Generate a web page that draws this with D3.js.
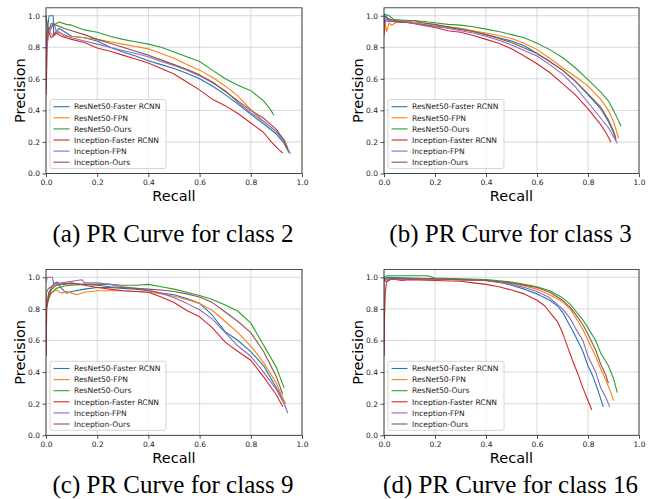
<!DOCTYPE html>
<html>
<head>
<meta charset="utf-8">
<script src="https://cdn.jsdelivr.net/npm/d3@7"></script>
<style>
  body { margin: 0; background: #fff; }
</style>
</head>
<body>
<div id="chart"></div>
<script>
// series names (legend order = draw order)
const seriesNames = ["ResNet50-Faster RCNN", "ResNet50-FPN", "ResNet50-Ours",
                     "Inception-Faster RCNN", "Inception-FPN", "Inception-Ours"];
const captions = ["(a) PR Curve for class 2", "(b) PR Curve for class 3",
                  "(c) PR Curve for class 9", "(d) PR Curve for class 16"];
const tickValues = [0, 0.2, 0.4, 0.6, 0.8, 1.0];

// class 2 : [recall, precision]
const c2_resFaster = [[0,0.82],[0.012,1.0],[0.028,1.0],[0.03,0.88],[0.05,0.92],[0.08,0.89],[0.1,0.87],[0.15,0.86],[0.2,0.84],[0.25,0.8],[0.3,0.77],[0.35,0.745],[0.4,0.715],[0.45,0.69],[0.5,0.665],[0.55,0.635],[0.6,0.6],[0.65,0.555],[0.7,0.5],[0.75,0.44],[0.8,0.375],[0.85,0.315],[0.9,0.25],[0.93,0.19],[0.95,0.13]];
const c2_resFpn = [[0,0.8],[0.01,0.9],[0.03,0.87],[0.05,0.9],[0.07,0.87],[0.1,0.87],[0.15,0.86],[0.2,0.85],[0.25,0.835],[0.3,0.82],[0.35,0.805],[0.4,0.79],[0.45,0.76],[0.5,0.73],[0.55,0.69],[0.6,0.655],[0.65,0.61],[0.7,0.555],[0.75,0.49],[0.8,0.405],[0.85,0.33],[0.9,0.265],[0.93,0.215],[0.945,0.16]];
const c2_resOurs = [[0,0.85],[0.01,0.92],[0.03,0.94],[0.05,0.96],[0.08,0.945],[0.1,0.94],[0.15,0.91],[0.2,0.895],[0.25,0.87],[0.3,0.85],[0.35,0.835],[0.4,0.82],[0.45,0.8],[0.5,0.77],[0.55,0.74],[0.6,0.71],[0.65,0.655],[0.7,0.6],[0.75,0.56],[0.8,0.525],[0.85,0.46],[0.875,0.41],[0.89,0.37]];
const c2_incFaster = [[0,0.5],[0.003,0.67],[0.005,0.85],[0.01,0.9],[0.02,0.86],[0.04,0.89],[0.06,0.87],[0.1,0.85],[0.15,0.83],[0.2,0.795],[0.25,0.775],[0.3,0.75],[0.35,0.725],[0.4,0.7],[0.45,0.665],[0.5,0.63],[0.55,0.58],[0.6,0.53],[0.65,0.47],[0.7,0.43],[0.75,0.38],[0.8,0.32],[0.85,0.26],[0.88,0.2],[0.91,0.15],[0.925,0.13]];
const c2_incFpn = [[0,0.75],[0.01,0.88],[0.02,0.92],[0.03,0.96],[0.04,0.9],[0.07,0.88],[0.1,0.86],[0.15,0.84],[0.2,0.82],[0.25,0.8],[0.3,0.78],[0.35,0.76],[0.4,0.74],[0.45,0.71],[0.5,0.685],[0.55,0.655],[0.6,0.62],[0.65,0.575],[0.7,0.525],[0.75,0.45],[0.8,0.385],[0.85,0.33],[0.9,0.265],[0.93,0.2],[0.955,0.125]];
const c2_incOurs = [[0,0.5],[0,1.0],[0.01,0.9],[0.02,0.95],[0.04,0.94],[0.07,0.92],[0.1,0.905],[0.15,0.88],[0.2,0.85],[0.25,0.825],[0.3,0.8],[0.35,0.775],[0.4,0.75],[0.45,0.72],[0.5,0.69],[0.55,0.66],[0.6,0.625],[0.65,0.58],[0.7,0.52],[0.75,0.46],[0.8,0.4],[0.85,0.35],[0.9,0.28],[0.93,0.21],[0.945,0.15]];

// class 3
const c3_resFaster = [[0,0.9],[0.005,1.0],[0.02,0.97],[0.05,0.965],[0.1,0.955],[0.15,0.945],[0.2,0.935],[0.25,0.925],[0.3,0.915],[0.35,0.9],[0.4,0.88],[0.45,0.86],[0.5,0.84],[0.55,0.81],[0.6,0.76],[0.65,0.71],[0.7,0.655],[0.75,0.585],[0.8,0.5],[0.85,0.41],[0.88,0.33],[0.9,0.26],[0.91,0.21]];
const c3_resFpn = [[0,0.87],[0.005,0.95],[0.01,0.9],[0.02,0.95],[0.03,0.94],[0.05,0.96],[0.1,0.96],[0.15,0.955],[0.2,0.94],[0.25,0.93],[0.3,0.92],[0.35,0.905],[0.4,0.89],[0.45,0.875],[0.5,0.855],[0.55,0.825],[0.6,0.785],[0.65,0.73],[0.7,0.67],[0.75,0.615],[0.8,0.555],[0.85,0.47],[0.88,0.4],[0.9,0.33],[0.92,0.225]];
const c3_resOurs = [[0,1.01],[0.02,1.0],[0.04,0.975],[0.1,0.97],[0.15,0.965],[0.2,0.955],[0.25,0.945],[0.3,0.94],[0.35,0.93],[0.4,0.915],[0.45,0.9],[0.5,0.88],[0.55,0.86],[0.6,0.825],[0.65,0.785],[0.7,0.735],[0.75,0.67],[0.8,0.595],[0.85,0.515],[0.88,0.46],[0.9,0.4],[0.93,0.3]];
const c3_incFaster = [[0,0.97],[0.02,0.965],[0.05,0.96],[0.1,0.955],[0.15,0.94],[0.2,0.925],[0.25,0.905],[0.3,0.895],[0.35,0.875],[0.4,0.85],[0.45,0.825],[0.5,0.79],[0.55,0.745],[0.6,0.695],[0.65,0.64],[0.7,0.57],[0.75,0.5],[0.8,0.41],[0.85,0.31],[0.87,0.26],[0.89,0.2]];
const c3_incFpn = [[0,0.94],[0.01,0.98],[0.02,0.96],[0.05,0.97],[0.1,0.955],[0.15,0.945],[0.2,0.93],[0.25,0.92],[0.3,0.905],[0.35,0.89],[0.4,0.87],[0.45,0.845],[0.5,0.815],[0.55,0.78],[0.6,0.745],[0.65,0.69],[0.7,0.63],[0.75,0.55],[0.8,0.45],[0.85,0.35],[0.88,0.29],[0.9,0.235],[0.915,0.19]];
const c3_incOurs = [[0,0.88],[0,1.0],[0.02,0.98],[0.05,0.965],[0.1,0.965],[0.12,0.97],[0.15,0.955],[0.2,0.945],[0.25,0.93],[0.3,0.915],[0.35,0.9],[0.4,0.88],[0.45,0.855],[0.5,0.83],[0.55,0.795],[0.6,0.76],[0.65,0.71],[0.7,0.655],[0.75,0.585],[0.8,0.505],[0.85,0.42],[0.88,0.34],[0.9,0.27],[0.91,0.22]];

// class 9
const c9_resFaster = [[0,0.8],[0.01,0.9],[0.03,0.96],[0.045,0.97],[0.06,0.93],[0.08,0.9],[0.1,0.91],[0.15,0.925],[0.2,0.935],[0.25,0.935],[0.3,0.93],[0.35,0.925],[0.4,0.915],[0.45,0.9],[0.5,0.89],[0.55,0.865],[0.6,0.835],[0.65,0.76],[0.7,0.655],[0.75,0.6],[0.8,0.53],[0.85,0.44],[0.9,0.3],[0.935,0.2]];
const c9_resFpn = [[0,0.85],[0.01,0.88],[0.02,0.9],[0.04,0.92],[0.06,0.9],[0.08,0.91],[0.1,0.9],[0.12,0.89],[0.15,0.905],[0.2,0.915],[0.25,0.915],[0.3,0.915],[0.35,0.91],[0.4,0.905],[0.45,0.895],[0.5,0.88],[0.55,0.86],[0.6,0.835],[0.65,0.79],[0.7,0.72],[0.75,0.65],[0.8,0.565],[0.85,0.46],[0.9,0.33],[0.935,0.2]];
const c9_resOurs = [[0,0.8],[0.01,0.86],[0.02,0.9],[0.04,0.93],[0.07,0.945],[0.1,0.95],[0.15,0.955],[0.2,0.955],[0.25,0.955],[0.3,0.95],[0.35,0.95],[0.4,0.955],[0.45,0.94],[0.5,0.925],[0.55,0.905],[0.6,0.885],[0.65,0.86],[0.7,0.825],[0.75,0.785],[0.8,0.71],[0.85,0.57],[0.9,0.43],[0.93,0.3]];
const c9_incFaster = [[0,0.5],[0.003,0.8],[0.01,0.88],[0.02,0.92],[0.04,0.95],[0.07,0.96],[0.1,0.965],[0.15,0.95],[0.2,0.935],[0.25,0.925],[0.3,0.915],[0.35,0.91],[0.4,0.905],[0.45,0.875],[0.5,0.84],[0.55,0.79],[0.6,0.75],[0.65,0.68],[0.7,0.59],[0.75,0.53],[0.8,0.475],[0.85,0.37],[0.9,0.255],[0.925,0.18]];
const c9_incFpn = [[0,0.97],[0.005,1.0],[0.025,1.0],[0.03,0.96],[0.06,0.965],[0.1,0.975],[0.14,0.985],[0.15,0.965],[0.2,0.965],[0.25,0.955],[0.3,0.94],[0.35,0.93],[0.4,0.92],[0.45,0.9],[0.5,0.87],[0.55,0.835],[0.6,0.795],[0.65,0.735],[0.7,0.65],[0.75,0.565],[0.8,0.5],[0.85,0.4],[0.9,0.29],[0.93,0.2],[0.945,0.14]];
const c9_incOurs = [[0,0.5],[0,0.9],[0.01,0.93],[0.03,0.95],[0.06,0.955],[0.1,0.96],[0.15,0.955],[0.2,0.95],[0.25,0.94],[0.3,0.935],[0.35,0.93],[0.4,0.925],[0.45,0.92],[0.5,0.91],[0.55,0.895],[0.6,0.875],[0.65,0.84],[0.7,0.78],[0.75,0.72],[0.8,0.65],[0.85,0.53],[0.9,0.37],[0.925,0.26]];

// class 16
const c16_resFaster = [[0,0.98],[0.01,1.0],[0.1,0.995],[0.2,0.99],[0.3,0.985],[0.4,0.98],[0.45,0.97],[0.5,0.95],[0.55,0.925],[0.6,0.895],[0.65,0.855],[0.68,0.82],[0.7,0.78],[0.72,0.72],[0.75,0.63],[0.78,0.53],[0.8,0.44],[0.82,0.37],[0.84,0.28],[0.86,0.18]];
const c16_resFpn = [[0,0.98],[0.01,0.99],[0.1,0.99],[0.2,0.99],[0.3,0.985],[0.4,0.98],[0.5,0.96],[0.55,0.945],[0.6,0.925],[0.65,0.89],[0.7,0.845],[0.73,0.8],[0.75,0.75],[0.78,0.67],[0.8,0.6],[0.83,0.5],[0.85,0.42],[0.87,0.35],[0.89,0.27],[0.9,0.22]];
const c16_resOurs = [[0,1.0],[0.01,1.01],[0.17,1.01],[0.2,0.995],[0.3,0.99],[0.4,0.985],[0.5,0.97],[0.55,0.955],[0.6,0.94],[0.65,0.915],[0.7,0.87],[0.73,0.83],[0.75,0.79],[0.78,0.73],[0.8,0.68],[0.83,0.6],[0.85,0.52],[0.88,0.44],[0.9,0.36],[0.915,0.27]];
const c16_incFaster = [[0,0.5],[0.002,0.75],[0.005,0.9],[0.01,0.97],[0.03,0.99],[0.07,0.98],[0.1,0.985],[0.2,0.98],[0.3,0.975],[0.35,0.965],[0.4,0.955],[0.45,0.94],[0.5,0.92],[0.55,0.895],[0.6,0.855],[0.63,0.82],[0.65,0.78],[0.68,0.72],[0.7,0.65],[0.72,0.56],[0.74,0.47],[0.76,0.39],[0.78,0.3],[0.8,0.22],[0.815,0.16]];
const c16_incFpn = [[0,0.97],[0.01,0.99],[0.1,0.99],[0.2,0.99],[0.3,0.985],[0.4,0.98],[0.5,0.955],[0.55,0.935],[0.6,0.91],[0.65,0.87],[0.7,0.8],[0.73,0.74],[0.75,0.68],[0.78,0.6],[0.8,0.5],[0.83,0.4],[0.85,0.3],[0.87,0.24],[0.885,0.18]];
const c16_incOurs = [[0,0.5],[0,1.0],[0.01,0.97],[0.02,0.99],[0.1,0.99],[0.2,0.99],[0.3,0.985],[0.4,0.98],[0.5,0.965],[0.55,0.95],[0.6,0.935],[0.65,0.905],[0.7,0.855],[0.73,0.81],[0.75,0.77],[0.78,0.7],[0.8,0.64],[0.83,0.54],[0.85,0.45],[0.87,0.38],[0.88,0.33]];

const panelSeries = [
    [c2_resFaster, c2_resFpn, c2_resOurs, c2_incFaster, c2_incFpn, c2_incOurs],
    [c3_resFaster, c3_resFpn, c3_resOurs, c3_incFaster, c3_incFpn, c3_incOurs],
    [c9_resFaster, c9_resFpn, c9_resOurs, c9_incFaster, c9_incFpn, c9_incOurs],
    [c16_resFaster, c16_resFpn, c16_resOurs, c16_incFaster, c16_incFpn, c16_incOurs]
];

// matplotlib tab10
const colors = ['#1f77b4', '#ff7f0e', '#2ca02c', '#d62728', '#9467bd', '#8c564b'];

// panel frames (pixels): left, right, y of precision 0, y of precision 1, caption baseline
const frames = [
    { left: 46, right: 302, y0: 173.5, y1: 15.7, cap: 242 },
    { left: 384, right: 639, y0: 173.5, y1: 15.7, cap: 242 },
    { left: 46, right: 302, y0: 435.3, y1: 277.3, cap: 493 },
    { left: 384, right: 639, y0: 435.3, y1: 277.3, cap: 493 }
];

const width = 651, height = 499;
const sans = 'DejaVu Sans, sans-serif';

const svg = d3.create('svg')
    .attr('width', width)
    .attr('height', height)
    .style('background', '#fff');

frames.forEach((f, pi) => {
    const x = d3.scaleLinear().domain([0, 1]).range([f.left, f.right]);
    const y = d3.scaleLinear().domain([0, 1]).range([f.y0, f.y1]);
    const yTop = y(1.05);

    const g = svg.append('g');

    // grid
    g.append('g').selectAll('line')
        .data(tickValues)
        .join('line')
        .attr('x1', d => x(d)).attr('x2', d => x(d))
        .attr('y1', yTop).attr('y2', f.y0)
        .attr('stroke', '#cfcfcf').attr('stroke-width', 0.8);
    g.append('g').selectAll('line')
        .data(tickValues)
        .join('line')
        .attr('x1', f.left).attr('x2', f.right)
        .attr('y1', d => y(d)).attr('y2', d => y(d))
        .attr('stroke', '#cfcfcf').attr('stroke-width', 0.8);

    // curves
    const clipId = 'clip' + pi;
    g.append('clipPath').attr('id', clipId)
        .append('rect')
        .attr('x', f.left).attr('y', yTop)
        .attr('width', f.right - f.left).attr('height', f.y0 - yTop);

    const line = d3.line().x(d => x(d[0])).y(d => y(d[1]));
    g.append('g').attr('clip-path', `url(#${clipId})`)
        .selectAll('path')
        .data(panelSeries[pi])
        .join('path')
        .attr('d', line)
        .attr('fill', 'none')
        .attr('stroke', (d, i) => colors[i])
        .attr('stroke-width', 1.1)
        .attr('stroke-linejoin', 'round');

    // axes
    const xAxis = g.append('g')
        .attr('transform', `translate(0, ${f.y0})`)
        .call(d3.axisBottom(x).tickValues(tickValues).tickFormat(d3.format('.1f'))
            .tickSize(3.5).tickPadding(3).tickSizeOuter(0));
    const yAxis = g.append('g')
        .attr('transform', `translate(${f.left}, 0)`)
        .call(d3.axisLeft(y).tickValues(tickValues).tickFormat(d3.format('.1f'))
            .tickSize(3.5).tickPadding(2.5).tickSizeOuter(0));
    [xAxis, yAxis].forEach(a => {
        a.select('.domain').remove();
        a.selectAll('line').attr('stroke', '#222').attr('stroke-width', 0.8);
        a.selectAll('text').attr('font-family', sans).attr('font-size', 7.5).attr('fill', '#222');
    });

    // frame
    g.append('rect')
        .attr('x', f.left).attr('y', yTop)
        .attr('width', f.right - f.left).attr('height', f.y0 - yTop)
        .attr('fill', 'none').attr('stroke', '#222').attr('stroke-width', 0.8);

    // axis titles
    g.append('text')
        .attr('x', (f.left + f.right) / 2)
        .attr('y', f.y0 + 27.5)
        .attr('text-anchor', 'middle')
        .attr('font-family', sans).attr('font-size', 14.5)
        .text('Recall');
    g.append('text')
        .attr('transform', `translate(${f.left - 21.5}, ${(yTop + f.y0) / 2}) rotate(-90)`)
        .attr('text-anchor', 'middle')
        .attr('font-family', sans).attr('font-size', 14.5)
        .text('Precision');

    // legend (lower left)
    const lg = g.append('g')
        .attr('transform', `translate(${f.left + 4}, ${f.y0 - 5 - 69})`);
    lg.append('rect')
        .attr('width', 116).attr('height', 69)
        .attr('rx', 2)
        .attr('fill', '#fff').attr('fill-opacity', 0.8)
        .attr('stroke', '#cccccc').attr('stroke-width', 0.8);
    const entries = lg.selectAll('g.entry')
        .data(seriesNames)
        .join('g')
        .attr('class', 'entry')
        .attr('transform', (d, i) => `translate(0, ${7.2 + i * 11.1})`);
    entries.append('line')
        .attr('x1', 3.5).attr('x2', 19.5)
        .attr('stroke', (d, i) => colors[i])
        .attr('stroke-width', 1.1);
    entries.append('text')
        .attr('x', 24).attr('y', 2.7)
        .attr('font-family', sans).attr('font-size', 7.6)
        .attr('fill', '#222')
        .text(d => d);

    // caption
    svg.append('text')
        .attr('x', (f.left + f.right) / 2 - 1)
        .attr('y', f.cap)
        .attr('text-anchor', 'middle')
        .attr('font-family', 'Liberation Serif, Times New Roman, serif')
        .attr('font-size', 25)
        .text(captions[pi]);
});

document.getElementById('chart').appendChild(svg.node());
</script>
</body>
</html>
